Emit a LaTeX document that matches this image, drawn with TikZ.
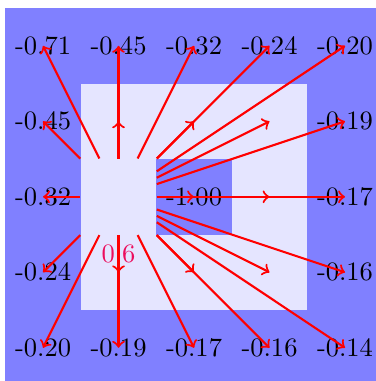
\documentclass[tikz,border=0pt]{standalone}
\usepackage{xcolor}

\colorlet{outer}{blue!50}
\colorlet{inner}{blue!10}
\colorlet{srcval}{magenta!55!red}

\tikzset{
    cellval/.style={inner sep=1pt},
    flow/.style={->, red, thick}
}

\begin{document}
\begin{tikzpicture}
    % Fix the frame of the picture
    \useasboundingbox (0.43,-0.393) rectangle (5.41,-5.44);

    % Draw the regions
    \fill[outer] (0.5,-0.5) rectangle (5.5,-5.5);
    \fill[inner] (1.5,-1.5) rectangle (4.5,-4.5);
    \fill[outer] (2.5,-2.5) rectangle (3.5,-3.5);

    % Values on the grid, top row
    \node[cellval] (c-1-1) at (1,-1) {-0.71};
    \node[cellval] (c-2-1) at (2,-1) {-0.45};
    \node[cellval] (c-3-1) at (3,-1) {-0.32};
    \node[cellval] (c-4-1) at (4,-1) {-0.24};
    \node[cellval] (c-5-1) at (5,-1) {-0.20};

    % Second row
    \node[cellval] (c-1-2) at (1,-2) {-0.45};
    \node[cellval] (c-2-2) at (2,-2) {};
    \node[cellval] (c-3-2) at (3,-2) {};
    \node[cellval] (c-4-2) at (4,-2) {};
    \node[cellval] (c-5-2) at (5,-2) {-0.19};

    % Middle row, with the source cell
    \node[cellval] (c-1-3) at (1,-3) {-0.32};
    \node[minimum size=1cm, inner sep=0pt,
          label={[text=srcval]below:0.6}] (src) at (2,-3) {};
    \node[cellval] (c-3-3) at (3,-3) {-1.00};
    \node[cellval] (c-4-3) at (4,-3) {};
    \node[cellval] (c-5-3) at (5,-3) {-0.17};

    % Fourth row
    \node[cellval] (c-1-4) at (1,-4) {-0.24};
    \node[cellval] (c-2-4) at (2,-4) {};
    \node[cellval] (c-3-4) at (3,-4) {};
    \node[cellval] (c-4-4) at (4,-4) {};
    \node[cellval] (c-5-4) at (5,-4) {-0.16};

    % Bottom row
    \node[cellval] (c-1-5) at (1,-5) {-0.20};
    \node[cellval] (c-2-5) at (2,-5) {-0.19};
    \node[cellval] (c-3-5) at (3,-5) {-0.17};
    \node[cellval] (c-4-5) at (4,-5) {-0.16};
    \node[cellval] (c-5-5) at (5,-5) {-0.14};

    % Arrows from the source to every other cell
    \foreach \t in {1-1,2-1,3-1,4-1,5-1,
                    1-2,2-2,3-2,4-2,5-2,
                    1-3,3-3,4-3,5-3,
                    1-4,2-4,3-4,4-4,5-4,
                    1-5,2-5,3-5,4-5,5-5}
        \draw[flow] (src) -- (c-\t.center);
\end{tikzpicture}
\end{document}
